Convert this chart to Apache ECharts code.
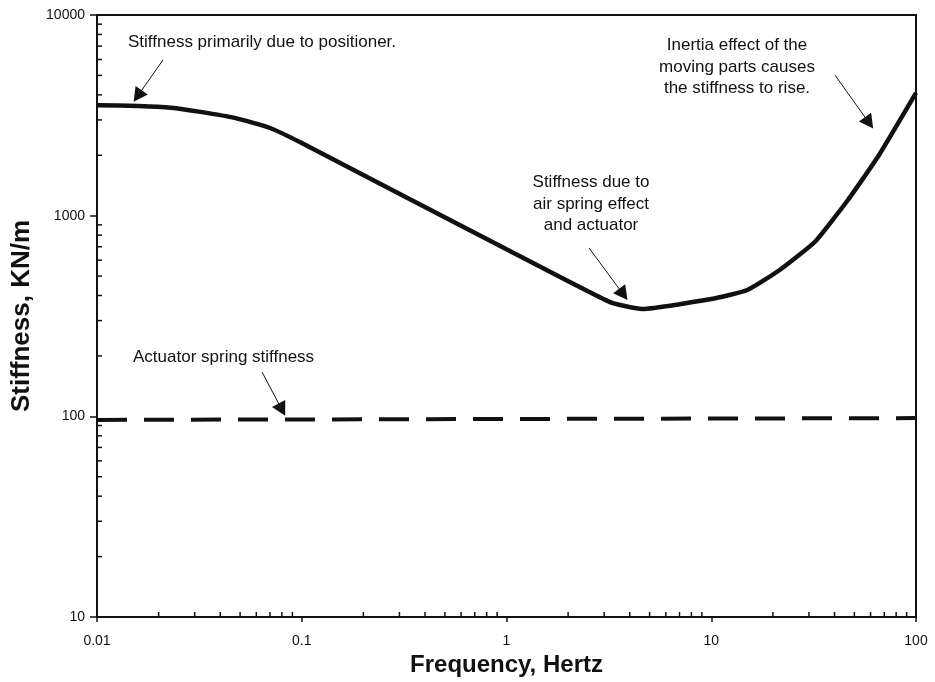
<!DOCTYPE html>
<html>
<head>
<meta charset="utf-8">
<script src="https://cdn.jsdelivr.net/npm/echarts@6/dist/echarts.min.js"></script>
<style>
  html, body { margin: 0; padding: 0; background: #ffffff; }
  #chart { width: 935px; height: 682px; }
</style>
</head>
<body>
<div id="chart"></div>
<script>
// Measured dynamic stiffness of the valve assembly vs. excitation frequency
const frequencyHz    = [0.01, 0.016, 0.023, 0.032, 0.047, 0.07, 0.1, 1, 3.2, 4.6, 10, 15, 21.6, 32, 46.5, 66, 100];
const totalStiffness = [3550, 3520, 3450, 3290, 3070, 2735, 2300, 680, 371, 343, 384, 426, 536, 739, 1197, 2006, 4087];

// Actuator spring alone (flat)
const springFreq      = [0.01, 100];
const springStiffness = [96, 98];

// Axis tick labels
const xTickLabels = ['0.01', '0.1', '1', '10', '100'];
const yTickLabels = ['10', '100', '1000', '10000'];

// Minor ticks: 2..9 within each decade
const minorMultipliers = [2, 3, 4, 5, 6, 7, 8, 9];
const xDecades = [0.01, 0.1, 1, 10];
const yDecades = [10, 100, 1000];

// Callout arrows: [tail, head] in data coordinates (Hz, kN/m)
const arrowPositioner = [[0.021, 5970], [0.0158, 3950]];
const arrowSpring     = [[0.064, 166], [0.080, 108]];
const arrowAirSpring  = [[2.53, 690], [3.72, 405]];
const arrowInertia    = [[40.2, 5020], [59.0, 2900]];

// Callout texts
const notePositioner = 'Stiffness primarily due to positioner.';
const noteSpring     = 'Actuator spring stiffness';
const noteAirSpring  = 'Stiffness due to\nair spring effect\nand actuator';
const noteInertia    = 'Inertia effect of the\nmoving parts causes\nthe stiffness to rise.';

const FONT = "'Liberation Sans', Arial, Helvetica, sans-serif";
const INK = '#111111';
const NOTE_FONT = '17px ' + FONT;

const xMinor = [];
xDecades.forEach(d => minorMultipliers.forEach(m => xMinor.push([d * m, 10])));
const yMinor = [];
yDecades.forEach(d => minorMultipliers.forEach(m => yMinor.push([0.01, d * m])));

const chart = echarts.init(document.getElementById('chart'), null, { renderer: 'canvas' });

function arrowLine(pair) {
  return [{ coord: pair[0] }, { coord: pair[1] }];
}

const option = {
  backgroundColor: '#ffffff',
  animation: false,
  grid: {
    left: 97, right: 19, top: 15, bottom: 65,
    show: true, borderColor: INK, borderWidth: 2, backgroundColor: 'transparent'
  },
  xAxis: {
    type: 'log', logBase: 10, min: 0.01, max: 100,
    name: 'Frequency, Hertz', nameLocation: 'middle', nameGap: 35,
    nameTextStyle: { fontFamily: FONT, fontWeight: 'bold', fontSize: 24, color: INK },
    axisLine: { show: true, lineStyle: { color: INK, width: 2 } },
    axisTick: { show: true, inside: false, length: 5, lineStyle: { color: INK, width: 1.5 } },
    axisLabel: {
      fontFamily: FONT, fontSize: 14, color: INK, margin: 17,
      formatter: v => {
        const i = Math.round(Math.log10(v)) + 2;
        return xTickLabels[i] !== undefined ? xTickLabels[i] : '';
      }
    },
    splitLine: { show: false }
  },
  yAxis: {
    type: 'log', logBase: 10, min: 10, max: 10000,
    name: 'Stiffness, KN/m', nameLocation: 'middle', nameGap: 61, nameRotate: 90,
    nameTextStyle: { fontFamily: FONT, fontWeight: 'bold', fontSize: 26, color: INK },
    axisLine: { show: true, lineStyle: { color: INK, width: 2 } },
    axisTick: { show: true, inside: false, length: 7, lineStyle: { color: INK, width: 1.5 } },
    axisLabel: {
      fontFamily: FONT, fontSize: 14, color: INK, margin: 12,
      formatter: v => {
        const i = Math.round(Math.log10(v)) - 1;
        return yTickLabels[i] !== undefined ? yTickLabels[i] : '';
      }
    },
    splitLine: { show: false }
  },
  series: [
    {
      name: 'Total stiffness',
      type: 'line',
      data: frequencyHz.map((f, i) => [f, totalStiffness[i]]),
      showSymbol: false,
      smooth: 0.15,
      lineStyle: { color: INK, width: 4.5 },
      z: 5,
      markLine: {
        silent: true,
        symbol: ['none', 'triangle'],
        symbolSize: [15, 14],
        label: { show: false },
        lineStyle: { color: INK, width: 1, type: 'solid' },
        emphasis: { disabled: true },
        data: [arrowLine(arrowPositioner), arrowLine(arrowSpring), arrowLine(arrowAirSpring), arrowLine(arrowInertia)]
      }
    },
    {
      name: 'Actuator spring',
      type: 'line',
      data: springFreq.map((f, i) => [f, springStiffness[i]]),
      showSymbol: false,
      lineStyle: { color: INK, width: 4, type: [30, 17] },
      z: 4
    },
    {
      name: 'x minor ticks',
      type: 'custom',
      data: xMinor,
      clip: false,
      silent: true,
      renderItem: (params, api) => {
        const p = api.coord([api.value(0), api.value(1)]);
        return { type: 'line', shape: { x1: p[0], y1: p[1], x2: p[0], y2: p[1] - 5 },
                 style: { stroke: INK, lineWidth: 1.5 } };
      }
    },
    {
      name: 'y minor ticks',
      type: 'custom',
      data: yMinor,
      clip: false,
      silent: true,
      renderItem: (params, api) => {
        const p = api.coord([api.value(0), api.value(1)]);
        return { type: 'line', shape: { x1: p[0], y1: p[1], x2: p[0] + 5, y2: p[1] },
                 style: { stroke: INK, lineWidth: 1.5 } };
      }
    }
  ],
  graphic: [
    { type: 'text', x: 128, y: 42, silent: true,
      style: { text: notePositioner, font: NOTE_FONT, fill: INK, verticalAlign: 'middle', align: 'left' } },
    { type: 'text', x: 133, y: 357, silent: true,
      style: { text: noteSpring, font: NOTE_FONT, fill: INK, verticalAlign: 'middle', align: 'left' } },
    { type: 'text', x: 591, y: 204, silent: true,
      style: { text: noteAirSpring, font: NOTE_FONT, lineHeight: 21.5, fill: INK, verticalAlign: 'middle', align: 'center' } },
    { type: 'text', x: 737, y: 67, silent: true,
      style: { text: noteInertia, font: NOTE_FONT, lineHeight: 21.5, fill: INK, verticalAlign: 'middle', align: 'center' } }
  ]
};

chart.setOption(option);
</script>
</body>
</html>
